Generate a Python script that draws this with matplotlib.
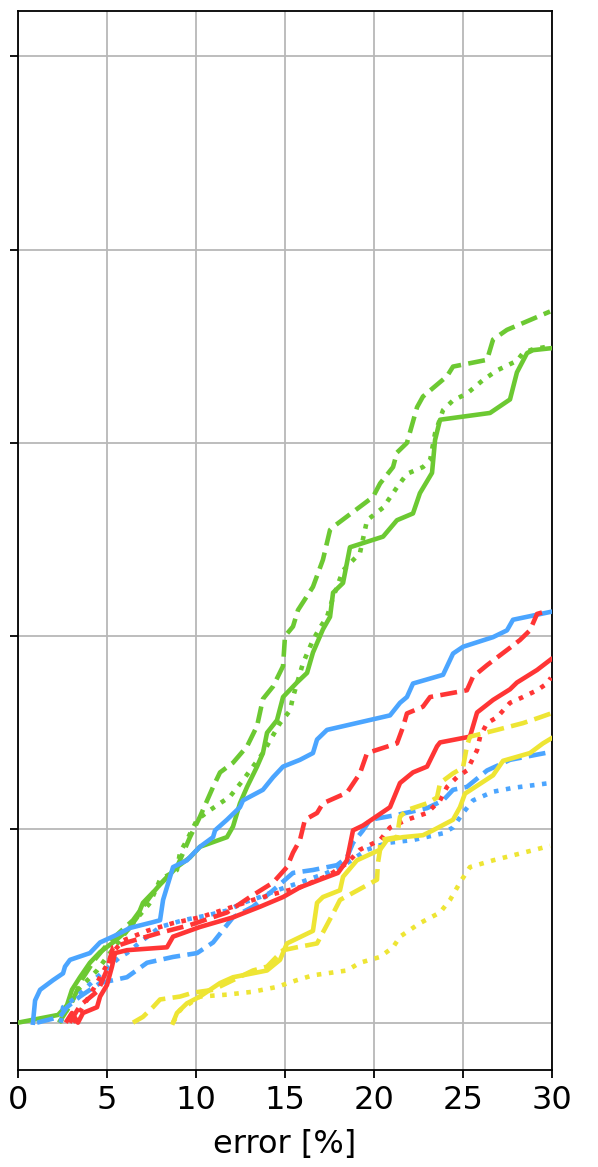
import matplotlib
matplotlib.use("Agg")
import matplotlib.pyplot as plt

# ---------------- data (error [%], cumulative fraction) ----------------
green_solid_x = [0, 2.25, 2.75, 3.03, 3.48, 4.04, 4.61, 5.34, 6.18, 6.69, 7.02, 7.70, 7.98, 8.93, 9.66,
                 10.22, 11.74, 12.08, 12.47, 12.87, 13.43, 13.76, 13.99, 14.55, 14.89, 15.67, 16.24,
                 16.57, 17.13, 17.53, 17.70, 18.26, 18.65, 20.51, 21.29, 22.19, 22.58, 23.26, 23.43,
                 23.71, 26.52, 27.64, 28.03, 28.60, 28.93, 29.94]
green_solid_y = [0, 0.008, 0.018, 0.034, 0.047, 0.062, 0.073, 0.083, 0.096, 0.109, 0.124, 0.137, 0.143,
                 0.161, 0.171, 0.182, 0.192, 0.203, 0.227, 0.244, 0.265, 0.279, 0.300, 0.313, 0.337,
                 0.352, 0.362, 0.383, 0.407, 0.420, 0.445, 0.455, 0.492, 0.503, 0.520, 0.527, 0.548,
                 0.569, 0.603, 0.624, 0.631, 0.645, 0.673, 0.693, 0.696, 0.698]

green_dashed_x = [2.3, 3.0, 3.6, 4.3, 5.2, 6.46, 7.81, 8.93, 9.66, 10.22, 10.96, 11.35, 12.08, 12.87,
                  13.43, 13.76, 14.33, 14.89, 15.0, 15.45, 15.73, 16.57, 17.13, 17.53, 17.70, 19.94,
                  20.34, 21.07, 21.29, 21.85, 22.42, 22.75, 24.10, 24.44, 26.35, 26.69, 27.47, 29.89]
green_dashed_y = [0, 0.02, 0.045, 0.065, 0.085, 0.106, 0.140, 0.161, 0.192, 0.213, 0.244, 0.259, 0.269,
                  0.286, 0.307, 0.335, 0.348, 0.369, 0.400, 0.410, 0.427, 0.451, 0.479, 0.510, 0.513,
                  0.544, 0.558, 0.575, 0.590, 0.600, 0.637, 0.648, 0.669, 0.679, 0.686, 0.707, 0.717,
                  0.736]

green_dotted_x = [2.36, 3.37, 4.44, 5.0, 6.46, 7.42, 7.98, 8.93, 9.10, 9.49, 10.06, 10.79, 11.91, 12.64,
                  13.76, 14.16, 14.72, 15.28, 15.45, 16.01, 16.57, 16.97, 17.36, 17.70, 18.26, 19.21,
                  19.61, 20.51, 21.29, 21.85, 22.75, 23.15, 23.43, 23.88, 24.44, 25.22, 26.12, 26.91,
                  28.03, 28.37, 28.93, 29.89]
green_dotted_y = [0, 0.034, 0.054, 0.068, 0.103, 0.124, 0.148, 0.158, 0.176, 0.189, 0.210, 0.220, 0.234,
                  0.251, 0.279, 0.292, 0.310, 0.323, 0.337, 0.372, 0.396, 0.409, 0.420, 0.440, 0.468,
                  0.486, 0.520, 0.533, 0.554, 0.568, 0.575, 0.582, 0.610, 0.634, 0.644, 0.651, 0.665,
                  0.675, 0.685, 0.693, 0.697, 0.700]

blue_solid_x = [0.84, 0.96, 1.24, 1.97, 2.53, 2.64, 2.92, 4.04, 4.61, 5.56, 6.29, 7.58, 7.98, 8.15, 8.71,
                9.49, 10.22, 10.96, 11.07, 11.74, 12.47, 12.64, 13.76, 14.33, 14.89, 15.84, 16.57, 16.80,
                17.36, 20.90, 21.46, 21.85, 22.19, 23.88, 24.44, 25.0, 26.69, 27.47, 27.81, 29.89]
blue_solid_y = [0, 0.023, 0.034, 0.044, 0.051, 0.058, 0.065, 0.072, 0.083, 0.091, 0.098, 0.104, 0.106,
                0.127, 0.161, 0.168, 0.182, 0.192, 0.199, 0.210, 0.223, 0.230, 0.241, 0.254, 0.265,
                0.272, 0.279, 0.293, 0.303, 0.318, 0.331, 0.337, 0.351, 0.360, 0.382, 0.389, 0.399,
                0.406, 0.417, 0.425]

blue_dashed_x = [1.07, 2.36, 2.75, 3.48, 4.61, 6.12, 7.25, 8.71, 10.06, 10.96, 11.52, 12.08, 13.20, 14.33,
                 15.45, 16.57, 17.92, 18.48, 18.82, 19.38, 19.78, 21.29, 22.98, 23.88, 24.44, 25.22,
                 26.35, 27.64, 29.89]
blue_dashed_y = [0, 0.006, 0.016, 0.027, 0.041, 0.047, 0.062, 0.068, 0.072, 0.083, 0.096, 0.109, 0.120,
                 0.137, 0.155, 0.158, 0.163, 0.171, 0.186, 0.199, 0.210, 0.215, 0.222, 0.230, 0.241,
                 0.244, 0.261, 0.272, 0.280]

blue_dotted_x = [2.4, 2.53, 3.31, 3.88, 4.44, 5.0, 5.73, 6.12, 6.85, 7.98, 9.27, 10.62, 11.74, 12.64,
                 13.60, 14.55, 15.84, 17.36, 18.48, 19.61, 20.73, 22.19, 23.88, 24.44, 25.0, 25.56,
                 26.69, 27.81, 29.89]
blue_dotted_y = [0, 0.016, 0.027, 0.037, 0.047, 0.056, 0.068, 0.072, 0.083, 0.099, 0.106, 0.111, 0.116,
                 0.124, 0.130, 0.137, 0.145, 0.155, 0.165, 0.179, 0.186, 0.189, 0.196, 0.202, 0.217,
                 0.230, 0.239, 0.243, 0.248]

red_solid_x = [2.75, 3.03, 3.37, 3.65, 4.44, 4.61, 5.0, 5.28, 5.45, 6.12, 8.37, 8.71, 10.22, 12.08, 13.60,
               14.89, 15.84, 16.97, 17.98, 18.48, 18.82, 19.38, 20.90, 21.46, 22.19, 22.98, 23.54,
               23.71, 25.39, 25.79, 26.69, 27.64, 28.03, 29.16, 29.94]
red_solid_y = [0.002, 0.010, 0.0, 0.010, 0.016, 0.027, 0.039, 0.058, 0.072, 0.075, 0.078, 0.089, 0.099,
               0.109, 0.120, 0.130, 0.140, 0.148, 0.155, 0.168, 0.199, 0.204, 0.223, 0.248, 0.259,
               0.265, 0.286, 0.290, 0.296, 0.321, 0.334, 0.345, 0.352, 0.365, 0.376]

red_dashed_x = [2.9, 3.5, 4.5, 5.0, 5.34, 6.29, 7.98, 9.66, 11.74, 13.03, 14.33, 15.11, 15.45, 15.84,
                16.12, 16.80, 17.13, 18.48, 19.21, 19.61, 21.29, 21.63, 21.85, 22.75, 23.15, 25.22,
                25.56, 26.35, 27.64, 28.20, 28.76, 29.16, 29.72]
red_dashed_y = [0.0, 0.018, 0.033, 0.055, 0.078, 0.084, 0.093, 0.101, 0.114, 0.130, 0.145, 0.161, 0.176,
                0.189, 0.210, 0.217, 0.227, 0.238, 0.258, 0.279, 0.289, 0.306, 0.320, 0.327, 0.337,
                0.344, 0.358, 0.370, 0.388, 0.396, 0.406, 0.423, 0.426]

red_dotted_x = [3.1, 3.7, 4.4, 5.0, 5.34, 5.90, 7.25, 8.71, 10.22, 12.08, 13.20, 14.55, 15.84, 17.5,
                18.48, 19.21, 20.34, 20.90, 21.85, 22.98, 23.71, 24.10, 24.66, 25.22, 25.79, 25.96,
                26.35, 26.91, 27.64, 28.37, 29.16, 29.72, 29.94]
red_dotted_y = [0.0, 0.018, 0.040, 0.060, 0.073, 0.085, 0.095, 0.103, 0.109, 0.120, 0.127, 0.134, 0.140,
                0.153, 0.165, 0.179, 0.189, 0.202, 0.210, 0.217, 0.230, 0.244, 0.254, 0.261, 0.282,
                0.296, 0.310, 0.316, 0.331, 0.337, 0.344, 0.351, 0.357]

yellow_solid_x = [8.71, 8.93, 9.49, 10.22, 11.35, 12.08, 13.99, 14.72, 15.11, 16.57, 16.80, 17.13, 18.09,
                  18.26, 19.04, 20.34, 20.73, 21.63, 22.75, 23.31, 24.44, 24.83, 25.11, 26.69, 27.25,
                  28.76, 29.49, 29.94]
yellow_solid_y = [0, 0.010, 0.020, 0.027, 0.041, 0.047, 0.054, 0.065, 0.082, 0.095, 0.124, 0.130, 0.137,
                  0.151, 0.168, 0.179, 0.189, 0.192, 0.194, 0.199, 0.210, 0.223, 0.237, 0.256, 0.271,
                  0.279, 0.289, 0.294]

yellow_dashed_x = [6.46, 7.02, 7.58, 7.98, 9.10, 9.83, 10.96, 12.08, 13.20, 13.99, 14.89, 15.67, 16.80,
                   17.70, 18.09, 20.17, 20.22, 20.34, 20.34, 21.29, 21.46, 21.85, 22.98, 23.54, 23.71,
                   24.44, 25.0, 25.22, 25.39, 26.91, 28.37, 29.33, 29.94]
yellow_dashed_y = [0, 0.006, 0.016, 0.024, 0.027, 0.031, 0.034, 0.044, 0.054, 0.058, 0.075, 0.078, 0.082,
                   0.113, 0.127, 0.148, 0.165, 0.179, 0.189, 0.192, 0.213, 0.220, 0.227, 0.233, 0.248,
                   0.258, 0.264, 0.286, 0.296, 0.303, 0.310, 0.316, 0.320]

yellow_dotted_x = [8.71, 9.10, 10.22, 11.74, 13.20, 14.55, 15.67, 16.57, 18.48, 19.21, 20.34, 21.07, 21.46,
                   22.58, 23.71, 24.27, 24.83, 25.39, 26.69, 28.20, 29.89]
yellow_dotted_y = [0, 0.013, 0.027, 0.029, 0.032, 0.037, 0.044, 0.049, 0.054, 0.062, 0.068, 0.078, 0.089,
                   0.103, 0.114, 0.127, 0.145, 0.161, 0.168, 0.175, 0.183]

x_ticks = [0, 5, 10, 15, 20, 25, 30]
y_ticks = [0.0, 0.2, 0.4, 0.6, 0.8, 1.0]
x_label = "error [%]"

# ---------------- styling ----------------
GREEN = "#6cc932"
BLUE = "#4ba5ff"
RED = "#ff3535"
YELLOW = "#eee534"
LW = 3.3

fig = plt.figure(figsize=(5.98, 11.67), dpi=100)
ax = fig.add_axes([18 / 598, 97 / 1167, 534 / 598, 1059 / 1167])

series = [
    (green_solid_x, green_solid_y, GREEN, "-"),
    (green_dashed_x, green_dashed_y, GREEN, "--"),
    (green_dotted_x, green_dotted_y, GREEN, ":"),
    (blue_solid_x, blue_solid_y, BLUE, "-"),
    (blue_dashed_x, blue_dashed_y, BLUE, "--"),
    (blue_dotted_x, blue_dotted_y, BLUE, ":"),
    (red_solid_x, red_solid_y, RED, "-"),
    (red_dashed_x, red_dashed_y, RED, "--"),
    (red_dotted_x, red_dotted_y, RED, ":"),
    (yellow_solid_x, yellow_solid_y, YELLOW, "-"),
    (yellow_dashed_x, yellow_dashed_y, YELLOW, "--"),
    (yellow_dotted_x, yellow_dotted_y, YELLOW, ":"),
]
for xs, ys, c, ls in series:
    ax.plot(xs, ys, color=c, linestyle=ls, linewidth=LW, zorder=3)

ax.set_xlim(0, 30)
ax.set_ylim(-0.049, 1.047)
ax.set_xticks(x_ticks)
ax.set_xticklabels([str(t) for t in x_ticks])
ax.set_yticks(y_ticks)
ax.set_yticklabels([])
ax.tick_params(axis="both", length=6, width=1.3, labelsize=23, pad=5)
ax.set_xlabel(x_label, fontsize=23, labelpad=9)
ax.grid(True, color="#b8b8b8", linewidth=1.3, zorder=0)
ax.set_axisbelow(True)
for s in ax.spines.values():
    s.set_linewidth(1.3)

fig.savefig("out.png", dpi=100)
